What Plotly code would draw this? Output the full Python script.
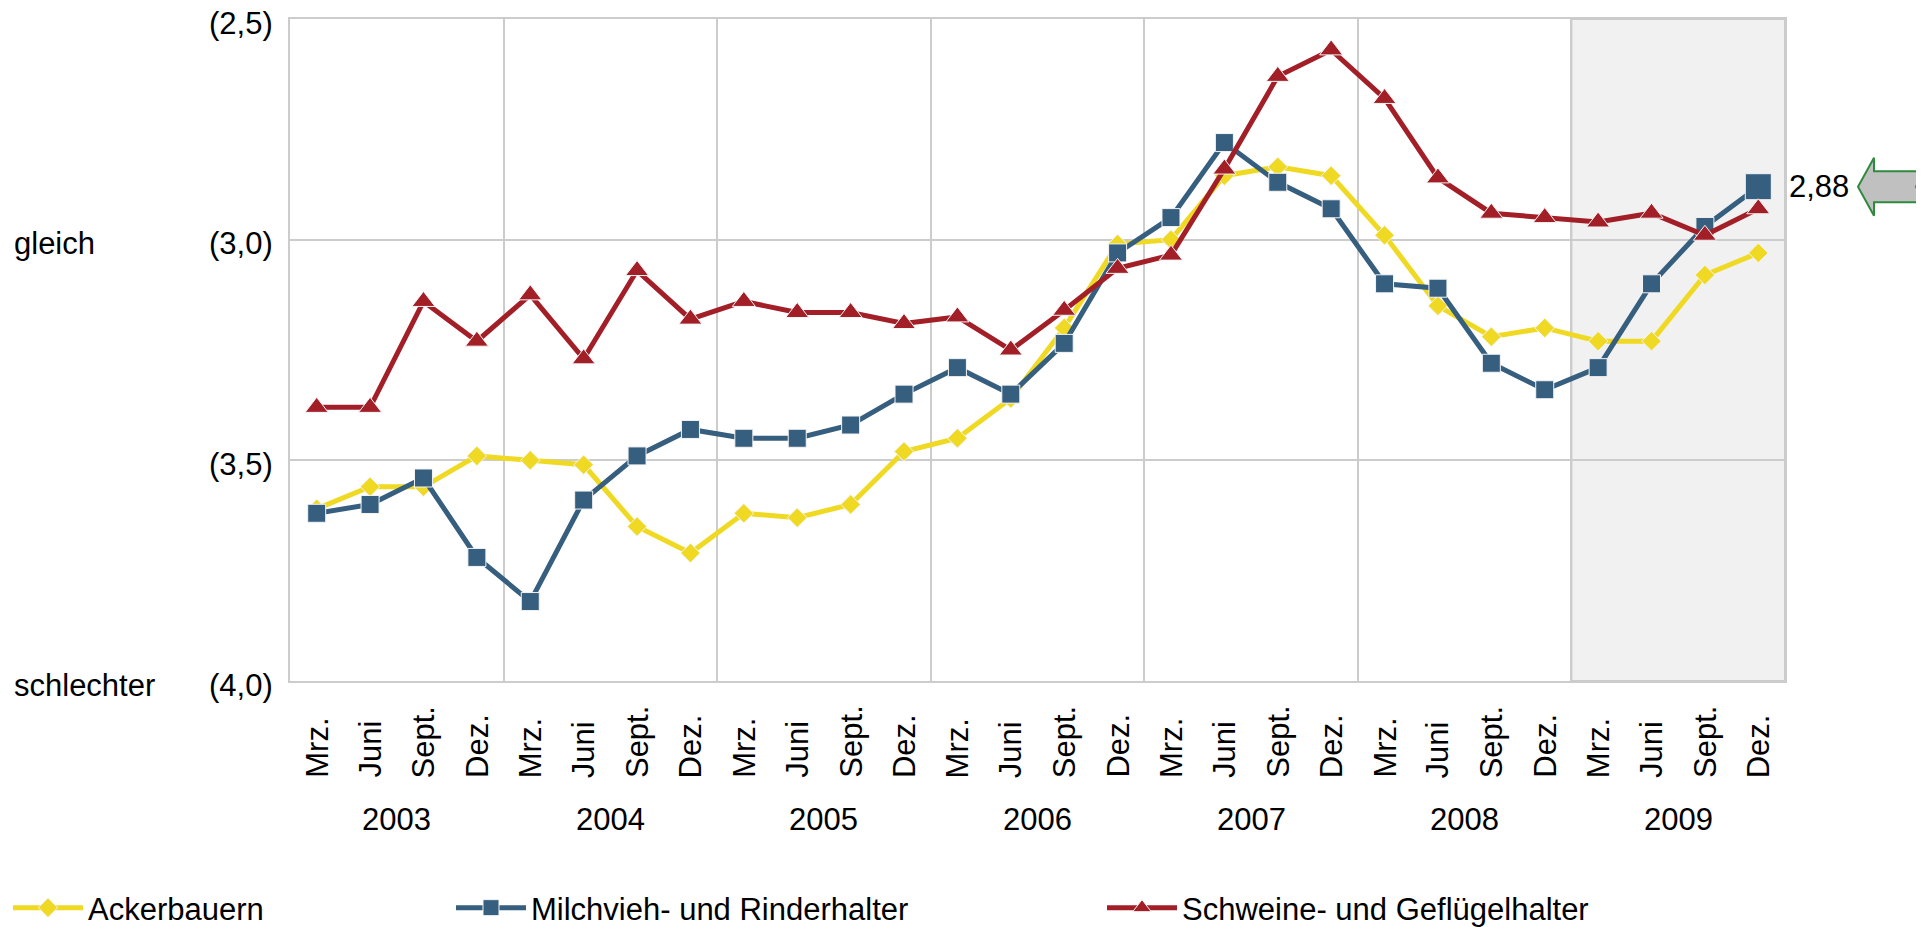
import plotly.graph_objects as go

months = ["Mrz.", "Juni", "Sept.", "Dez."]
years = ["2003", "2004", "2005", "2006", "2007", "2008", "2009"]
month_labels = [m for y in years for m in months]

y_tickvals = [2.5, 3.0, 3.5, 4.0]
y_ticktext = ["(2,5)", "(3,0)", "(3,5)", "(4,0)"]
side_labels = {3.0: "gleich", 4.0: "schlechter"}

ackerbauern = [3.61, 3.56, 3.56, 3.49, 3.50, 3.51, 3.65, 3.71,
               3.62, 3.63, 3.60, 3.48, 3.45, 3.36, 3.20, 3.01,
               3.00, 2.855, 2.835, 2.855, 2.99, 3.15, 3.22, 3.20,
               3.23, 3.23, 3.08, 3.03]
milchvieh = [3.62, 3.60, 3.54, 3.72, 3.82, 3.59, 3.49, 3.43,
             3.45, 3.45, 3.42, 3.35, 3.29, 3.35, 3.235, 3.03,
             2.95, 2.78, 2.87, 2.93, 3.10, 3.11, 3.28, 3.34,
             3.29, 3.10, 2.97, 2.88]
schweine = [3.38, 3.38, 3.14, 3.23, 3.125, 3.27, 3.07, 3.18,
            3.14, 3.165, 3.165, 3.19, 3.175, 3.25, 3.16, 3.065,
            3.035, 2.84, 2.63, 2.57, 2.68, 2.86, 2.94, 2.95,
            2.96, 2.94, 2.99, 2.93]

YELLOW = "#F0D922"
BLUE = "#365E7E"
RED = "#A31F28"
GRID = "#CCCCCC"
FONT = "Liberation Sans, Arial, Helvetica, sans-serif"
FS = 31

W, H = 1916, 919   # page body has an 8px margin

n = len(month_labels)
xs = list(range(n))

fig = go.Figure()

mk_line = dict(color="#F4F4F4", width=1)

fig.add_trace(go.Scatter(
    x=xs, y=ackerbauern, name="Ackerbauern", mode="lines+markers",
    line=dict(color=YELLOW, width=5),
    marker=dict(symbol="diamond", size=15, color=YELLOW, line=mk_line, opacity=1),
    legend="legend",
))
fig.add_trace(go.Scatter(
    x=xs, y=milchvieh, name="Milchvieh- und Rinderhalter", mode="lines+markers",
    line=dict(color=BLUE, width=5),
    marker=dict(symbol="square", size=[18] * (n - 1) + [26], color=BLUE, line=mk_line, opacity=1),
    legend="legend2",
))
fig.add_trace(go.Scatter(
    x=xs, y=schweine, name="Schweine- und Geflügelhalter", mode="lines+markers",
    line=dict(color=RED, width=5),
    marker=dict(symbol="triangle-up", size=20, color=RED, line=mk_line, opacity=1),
    legend="legend3",
))

# shaded 2009 band
fig.add_shape(type="rect", xref="x", yref="paper",
              x0=n - 4 - 0.5, x1=n - 0.5, y0=0, y1=1,
              fillcolor="#F1F1F1", line=dict(color=GRID, width=2), layer="below")

year_bounds = [4 * k - 0.5 for k in range(1, len(years))]

fig.update_xaxes(
    range=[-0.5, n - 0.5], tickvals=year_bounds, ticktext=[""] * len(year_bounds),
    showgrid=True, gridcolor=GRID, gridwidth=2,
    showline=True, linecolor=GRID, linewidth=2, mirror=True,
    ticks="", zeroline=False,
)
fig.update_yaxes(
    range=[4.0, 2.5], tickvals=y_tickvals, showticklabels=False,
    showgrid=True, gridcolor=GRID, gridwidth=2,
    showline=True, linecolor=GRID, linewidth=2, mirror=True,
    ticks="", zeroline=False,
)

annotations = []
# y tick labels
for yv, txt in zip(y_tickvals, y_ticktext):
    annotations.append(dict(
        x=0, y=yv, xref="paper", yref="y", text=txt, showarrow=False,
        xanchor="right", yanchor="middle", xshift=-15, yshift=-4,
        font=dict(size=FS, color="black", family=FONT),
    ))
# month labels (rotated, start-aligned at the bottom)
for i, lab in enumerate(month_labels):
    annotations.append(dict(
        x=i, y=0, xref="x", yref="paper", text=lab, textangle=-90,
        showarrow=False, xanchor="center", yanchor="bottom", yshift=-99,
        font=dict(size=FS, color="black", family=FONT),
    ))
# year labels
for k, yr in enumerate(years):
    annotations.append(dict(
        x=4 * k + 1.5, y=0, xref="x", yref="paper", text=yr,
        showarrow=False, xanchor="center", yanchor="middle", yshift=-138,
        font=dict(size=FS, color="black", family=FONT),
    ))
# side labels
for yv, txt in side_labels.items():
    annotations.append(dict(
        x=0, y=yv, xref="paper", yref="y", text=txt, showarrow=False,
        xanchor="left", yanchor="middle", xshift=-278, yshift=-4,
        font=dict(size=FS, color="black", family=FONT),
    ))
# last value label
last_val = milchvieh[-1]
annotations.append(dict(
    x=1, y=last_val, xref="paper", yref="y",
    text=f"{last_val:.2f}".replace(".", ","), showarrow=False,
    xanchor="left", yanchor="middle", xshift=2,
    font=dict(size=FS, color="black", family=FONT),
))

# block arrow pointing at the last value
fig.add_shape(
    type="path", xref="paper", yref="y",
    xsizemode="pixel", ysizemode="pixel", xanchor=1, yanchor=last_val,
    path="M73,0 L89,29 L89,15.5 L138,15.5 L131,0 L138,-15.5 L89,-15.5 L89,-29 Z",
    fillcolor="#C0C0C0", line=dict(color="#2E8B3E", width=2), layer="above",
)

legend_common = dict(
    orientation="h", xref="container", yref="container",
    xanchor="left", yanchor="middle", y=19 / H,
    font=dict(size=FS, color="black", family=FONT),
    bgcolor="rgba(0,0,0,0)", itemwidth=70, tracegroupgap=0,
)

fig.update_layout(
    width=W, height=H,
    margin=dict(l=282, r=139, t=11, b=246, autoexpand=False),
    paper_bgcolor="white", plot_bgcolor="white",
    font=dict(family=FONT, size=FS, color="black"),
    showlegend=True,
    legend=dict(x=-7 / W, **legend_common),
    legend2=dict(x=443 / W, **legend_common),
    legend3=dict(x=1094 / W, **legend_common),
    annotations=annotations,
    hovermode=False,
)

fig.write_html("out.html", config={"displayModeBar": False})
